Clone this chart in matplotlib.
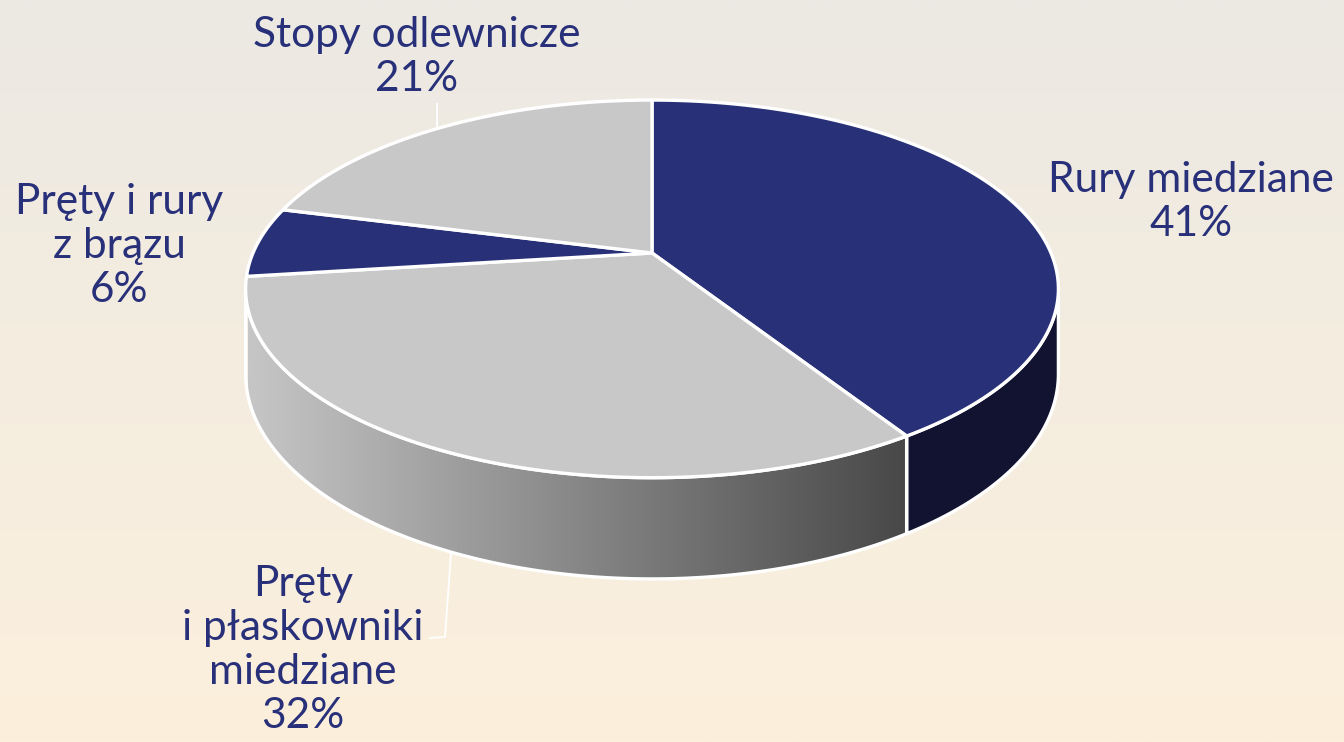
"""3D-style pie: struktura produkcji (udzialy %), recreated with matplotlib patches."""
import numpy as np
import matplotlib
matplotlib.use("Agg")
import matplotlib.pyplot as plt
from matplotlib.patches import Polygon

# ---- data (clockwise from 12 o'clock) ----
labels = ["Rury miedziane", "Pręty\ni płaskowniki\nmiedziane", "Pręty i rury\nz brązu", "Stopy odlewnicze"]
shares = [41, 32, 6, 21]
top_colors = ["#283078", "#c8c8c8", "#283078", "#c8c8c8"]
side_kind = ["navy", "grey", "navy", "grey"]

# ---- layout (pixel space, y up) ----
W, H = 1344, 742
CX, CY = 652, H - 253      # pie centre as seen
SX, SY = 399, 182          # disc half sizes before perspective
K = 0.19                   # perspective strength (front is closer)
DEPTH = 82
TEXT = "#28307a"

fig = plt.figure(figsize=(W / 100, H / 100), dpi=100)
ax = fig.add_axes([0, 0, 1, 1])
ax.set_xlim(0, W)
ax.set_ylim(0, H)
ax.axis("off")

# background gradient
g = np.linspace(0, 1, 256)[:, None, None]
c_top = np.array([0xec, 0xe9, 0xe3]) / 255
c_bot = np.array([0xfc, 0xf0, 0xdc]) / 255
ax.imshow(c_top * (1 - g) + c_bot * g, extent=[0, W, 0, H], aspect="auto", zorder=0)


def proj(theta_deg, r=1.0, drop=0.0):
    """Project disc points (angle, radius) to the picture with a simple perspective."""
    t = np.radians(np.atleast_1d(theta_deg))
    u, v = r * np.cos(t), r * np.sin(t)
    w = 1 + K * v
    return np.column_stack([CX + SX * u / w, CY + (SY * v - drop) / w])


def arc(t1, t2, drop=0.0, n=120):
    return proj(np.linspace(t1, t2, n), drop=drop)


# slice boundaries in degrees (ccw from +x); slices run clockwise from 90
bounds = 90 - 360 * np.concatenate([[0], np.cumsum(shares)]) / sum(shares)

grad = np.linspace(0, 1, 256)[None, :, None]
g_left = np.array([0xc6, 0xc6, 0xc6]) / 255
g_right = np.array([0x48, 0x48, 0x48]) / 255
grey_img = g_left * (1 - grad) + g_right * grad
x_left = proj(-175)[0, 0]
x_right = proj(bounds[1])[0, 0]

# side walls: visible between the two silhouette points of the rim
sil = np.degrees(np.arcsin(K))
vis_hi, vis_lo = -sil, -180 + sil
for i in range(len(shares)):
    a, b = min(bounds[i], vis_hi), max(bounds[i + 1], vis_lo)
    if a <= b:
        continue
    pts = np.vstack([arc(a, b), arc(b, a, drop=DEPTH)])
    navy = side_kind[i] == "navy"
    poly = Polygon(pts, closed=True, zorder=2, facecolor="#111330" if navy else "none",
                   edgecolor="white", lw=2.4, joinstyle="round")
    ax.add_patch(poly)
    if not navy:
        im = ax.imshow(grey_img, extent=[x_left, x_right, CY - SY - DEPTH * 2, CY],
                       aspect="auto", zorder=1.9)
        im.set_clip_path(poly)

# top faces
for i in range(len(shares)):
    rim = arc(bounds[i], bounds[i + 1])
    pts = np.vstack([proj(0, r=0.0), rim])
    ax.add_patch(Polygon(pts, closed=True, facecolor=top_colors[i], edgecolor="white",
                         lw=2.4, joinstyle="round", zorder=3))

# labels
font = dict(family=["Lato", "DejaVu Sans"], fontsize=30.5, color=TEXT,
            ha="center", va="center", linespacing=1.2, zorder=5)
label_pos = [(1191, H - 202), (303, H - 650), (119, H - 246), (417, H - 57)]
for lab, s, (x, y) in zip(labels, shares, label_pos):
    ax.text(x, y, f"{lab}\n{s}%", **font)

# leader lines
ax.plot([437, 437], [H - 104, H - 126], color="white", lw=1.3, zorder=4)
ax.plot([451, 445, 430], [H - 553, H - 637, H - 638], color="white", lw=1.3, zorder=4)

fig.savefig("out.png", dpi=100)
